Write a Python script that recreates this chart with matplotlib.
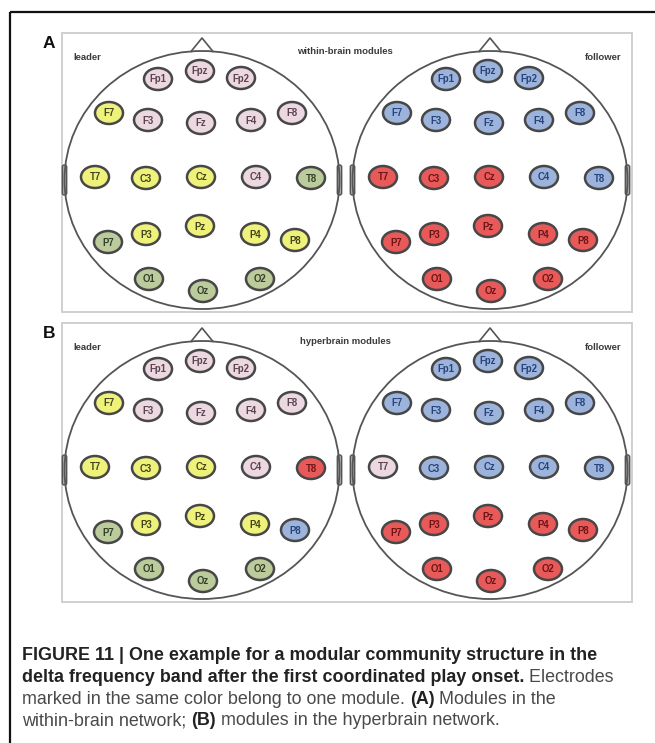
import matplotlib
matplotlib.use("Agg")
import matplotlib.pyplot as plt
from matplotlib.patches import Ellipse, Rectangle, FancyBboxPatch

# ---------------- data ----------------
electrodes = ["Fp1", "Fpz", "Fp2", "F7", "F3", "Fz", "F4", "F8",
              "T7", "C3", "Cz", "C4", "T8",
              "P7", "P3", "Pz", "P4", "P8", "O1", "Oz", "O2"]

panel_letters = ["A", "B"]
panel_titles = ["within-brain modules", "hyperbrain modules"]
subjects = ["leader", "follower"]

# module per electrode (same order as `electrodes`)
modules_A_leader = ["pink", "pink", "pink", "yellow", "pink", "pink", "pink", "pink",
                    "yellow", "yellow", "yellow", "pink", "green",
                    "green", "yellow", "yellow", "yellow", "yellow", "green", "green", "green"]
modules_A_follower = ["blue", "blue", "blue", "blue", "blue", "blue", "blue", "blue",
                      "red", "red", "red", "blue", "blue",
                      "red", "red", "red", "red", "red", "red", "red", "red"]
modules_B_leader = ["pink", "pink", "pink", "yellow", "pink", "pink", "pink", "pink",
                    "yellow", "yellow", "yellow", "pink", "red",
                    "green", "yellow", "yellow", "yellow", "blue", "green", "green", "green"]
modules_B_follower = ["blue", "blue", "blue", "blue", "blue", "blue", "blue", "blue",
                      "pink", "blue", "blue", "blue", "blue",
                      "red", "red", "red", "red", "red", "red", "red", "red"]

caption_lines = [
    [("FIGURE 11 | One example for a modular community structure in the", True)],
    [("delta frequency band after the first coordinated play onset.", True), (" Electrodes", False)],
    [("marked in the same color belong to one module. ", False), ("(A)", True), (" Modules in the", False)],
    [("within-brain network; ", False), ("(B)", True), (" modules in the hyperbrain network.", False)],
]

# ---------------- layout / style ----------------
# electrode offsets from head centre (pixels, y downward)
layout = {
    "Fp1": (-44, -101), "Fpz": (-2, -109), "Fp2": (39, -102),
    "F7": (-93, -67), "F3": (-54, -60), "Fz": (-1, -57), "F4": (49, -60), "F8": (90, -67),
    "T7": (-107, -3), "C3": (-56, -2), "Cz": (-1, -3), "C4": (54, -3), "T8": (109, -2),
    "P7": (-94, 62), "P3": (-56, 54), "Pz": (-2, 46), "P4": (53, 54), "P8": (93, 60),
    "O1": (-53, 99), "Oz": (1, 111), "O2": (58, 99),
}
fill = {"pink": "#ecd8e0", "yellow": "#eef27a", "green": "#bccb9c",
        "blue": "#9cb4dc", "red": "#e85a5a"}
txtc = {"pink": "#5a4450", "yellow": "#44441c", "green": "#33402a",
        "blue": "#27437a", "red": "#6e1414"}

W, H = 655, 743
fig = plt.figure(figsize=(W / 100, H / 100), dpi=100)
ax = fig.add_axes([0, 0, 1, 1])
ax.set_xlim(0, W)
ax.set_ylim(H, 0)
ax.axis("off")

cap_font = ["Liberation Sans", "DejaVu Sans"]
cap_size = 12.9
lab_font = ["Liberation Sans", "DejaVu Sans"]

# outer frame
ax.plot([10, W], [12, 12], color="#111111", lw=1.6, solid_capstyle="butt")
ax.plot([10, 10], [12, H], color="#111111", lw=1.6, solid_capstyle="butt")

head_cx = [202, 490]
head_cy = 180
head_w, head_h = 275, 258
panel_mods = [[modules_A_leader, modules_A_follower], [modules_B_leader, modules_B_follower]]

for p in range(2):
    oy = p * 290
    ax.add_patch(Rectangle((62, 33 + oy), 570, 279, facecolor="white",
                           edgecolor="#cfcfcf", lw=1.4))
    ax.text(43, 43 + oy, panel_letters[p], fontsize=12.5, fontweight="bold",
            family=lab_font, ha="left", va="center", color="#111111")
    ax.text(345, 51 + oy, panel_titles[p], fontsize=6.8, fontweight="bold",
            family=lab_font, ha="center", va="center", color="#3a3a3a")
    ax.text(73, 58 + oy, subjects[0], fontsize=6.8, fontweight="bold",
            family=lab_font, ha="left", va="center", color="#3a3a3a")
    ax.text(621, 58 + oy, subjects[1], fontsize=6.8, fontweight="bold",
            family=lab_font, ha="right", va="center", color="#3a3a3a")
    for h in range(2):
        cx, cy = head_cx[h], head_cy + oy
        # ears
        for side in (-1, 1):
            ex = cx + side * head_w / 2
            ax.add_patch(FancyBboxPatch((ex - 2.2, cy - 15), 4.4, 30,
                                        boxstyle="round,pad=0,rounding_size=2",
                                        facecolor="#a8a8a8", edgecolor="#555555", lw=1.0, zorder=2))
        ax.add_patch(Ellipse((cx, cy), head_w, head_h, facecolor="none",
                             edgecolor="#555555", lw=1.3, zorder=3))
        # nose
        ax.plot([cx - 11, cx, cx + 11], [cy - 128.5, cy - 142, cy - 128.5],
                color="#555555", lw=1.2, zorder=3)
        mods = panel_mods[p][h]
        for name, m in zip(electrodes, mods):
            dx, dy = layout[name]
            ax.add_patch(Ellipse((cx + dx, cy + dy), 28, 22, facecolor=fill[m],
                                 edgecolor="#474747", lw=1.8, zorder=4))
            ax.text(cx + dx, cy + dy + 0.5, name, fontsize=6.9, fontweight="bold",
                    family=lab_font, ha="center", va="center", color=txtc[m], zorder=5)

# caption with mixed weights
renderer = fig.canvas.get_renderer()
y0 = 656
for i, line in enumerate(caption_lines):
    x = 22
    y = y0 + i * 21.6
    for txt, bold in line:
        t = ax.text(x, y, txt, fontsize=cap_size, family=cap_font,
                    fontweight="bold" if bold else "normal",
                    color="#222222" if bold else "#4a4a4a",
                    ha="left", va="center")
        bb = t.get_window_extent(renderer)
        x += bb.width

fig.savefig("out.png", dpi=100, facecolor="white")
